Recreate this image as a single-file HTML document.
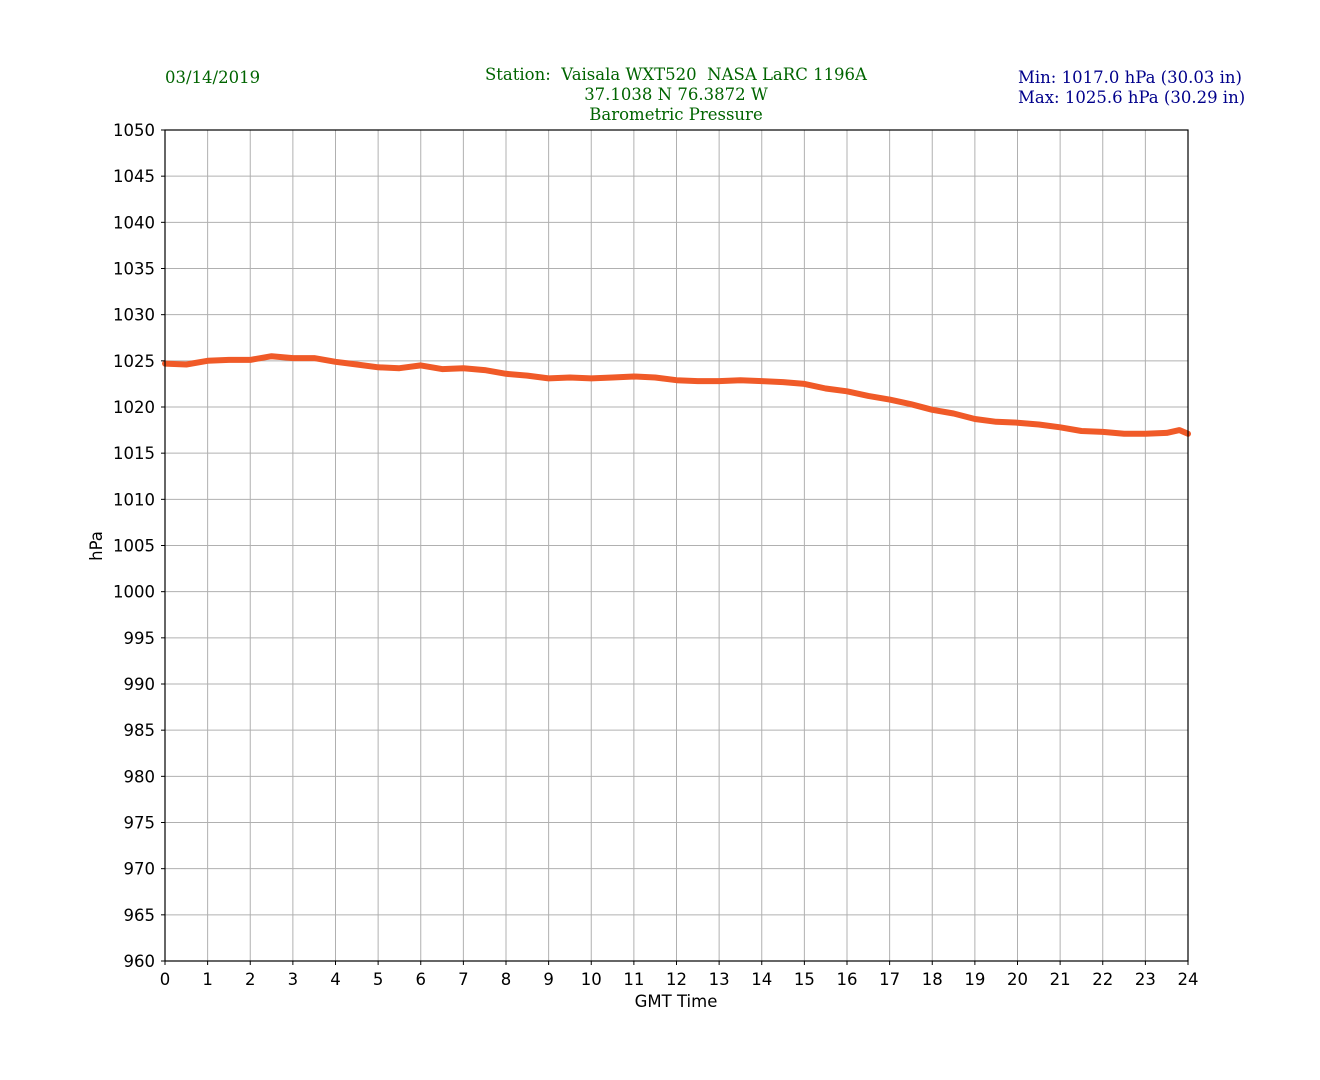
<!DOCTYPE html>
<html><head><meta charset="utf-8"><style>
body{margin:0;background:#fff;}
svg{display:block;}
</style></head><body>
<svg id="s" width="1320" height="1080" xmlns="http://www.w3.org/2000/svg">
<rect width="1320" height="1080" fill="#fff"/>
<g font-family="DejaVu Serif, serif" font-size="16.5" xml:space="preserve" style="white-space:pre">
<text x="165" y="83" fill="#006400">03/14/2019</text>
<text x="676" y="80" fill="#006400" text-anchor="middle" xml:space="preserve">Station:  Vaisala WXT520  NASA LaRC 1196A</text>
<text x="676" y="100" fill="#006400" text-anchor="middle">37.1038 N 76.3872 W</text>
<text x="676" y="120" fill="#006400" text-anchor="middle">Barometric Pressure</text>
<text x="1018" y="83" fill="#00008b">Min: 1017.0 hPa (30.03 in)</text>
<text x="1018" y="103" fill="#00008b">Max: 1025.6 hPa (30.29 in)</text>
</g>
<g id="grid"></g>
<g id="data"></g>
<rect x="165" y="130" width="1023" height="831" fill="none" stroke="#000" stroke-width="1.2"/>
<g id="ticks" font-family="DejaVu Sans, sans-serif" font-size="16.5" fill="#000"></g>
<text x="676" y="1007" font-family="DejaVu Sans, sans-serif" font-size="16.5" text-anchor="middle">GMT Time</text>
<text transform="translate(102,546) rotate(-90)" font-family="DejaVu Sans, sans-serif" font-size="16.5" text-anchor="middle">hPa</text>
</svg>
<script>
var NS="http://www.w3.org/2000/svg";
function el(p,t,a,txt){var e=document.createElementNS(NS,t);for(var k in a)e.setAttribute(k,a[k]);if(txt!==undefined)e.textContent=txt;document.getElementById(p).appendChild(e);return e;}
var X0=165,W=1023,Y0=130,H=831;
function X(h){return X0+h*W/24;}
function Y(v){return Y0+(1050-v)*H/90;}
for(var h=0;h<=24;h++){var x=X(h);
 if(h>0&&h<24)el("grid","line",{x1:x,x2:x,y1:Y0,y2:Y0+H,stroke:"#b0b0b0","stroke-width":1});
 el("ticks","line",{x1:x,x2:x,y1:961,y2:965,stroke:"#000"});
 el("ticks","text",{x:x,y:985,"text-anchor":"middle"},h);}
for(var v=960;v<=1050;v+=5){var y=Y(v);
 if(v>960&&v<1050)el("grid","line",{x1:X0,x2:X0+W,y1:y,y2:y,stroke:"#b0b0b0","stroke-width":1});
 el("ticks","line",{x1:161,x2:165,y1:y,y2:y,stroke:"#000"});
 el("ticks","text",{x:155,y:y+6,"text-anchor":"end"},v);}
var d=[[0,1024.7],[0.5,1024.6],[1,1025.0],[1.5,1025.1],[2,1025.1],[2.5,1025.5],[3,1025.3],[3.5,1025.3],[4,1024.9],[4.5,1024.6],[5,1024.3],[5.5,1024.2],[6,1024.5],[6.5,1024.1],[7,1024.2],[7.5,1024.0],[8,1023.6],[8.5,1023.4],[9,1023.1],[9.5,1023.2],[10,1023.1],[10.5,1023.2],[11,1023.3],[11.5,1023.2],[12,1022.9],[12.5,1022.8],[13,1022.8],[13.5,1022.9],[14,1022.8],[14.5,1022.7],[15,1022.5],[15.5,1022.0],[16,1021.7],[16.5,1021.2],[17,1020.8],[17.5,1020.3],[18,1019.7],[18.5,1019.3],[19,1018.7],[19.5,1018.4],[20,1018.3],[20.5,1018.1],[21,1017.8],[21.5,1017.4],[22,1017.3],[22.5,1017.1],[23,1017.1],[23.5,1017.2],[23.8,1017.5],[24,1017.1]];
var pts=d.map(function(p){return X(p[0]).toFixed(1)+","+Y(p[1]).toFixed(1);}).join(" ");
el("data","polyline",{points:pts,fill:"none",stroke:"#f05a28","stroke-width":6,"stroke-linejoin":"round","stroke-linecap":"round"});
</script>
</body></html>
